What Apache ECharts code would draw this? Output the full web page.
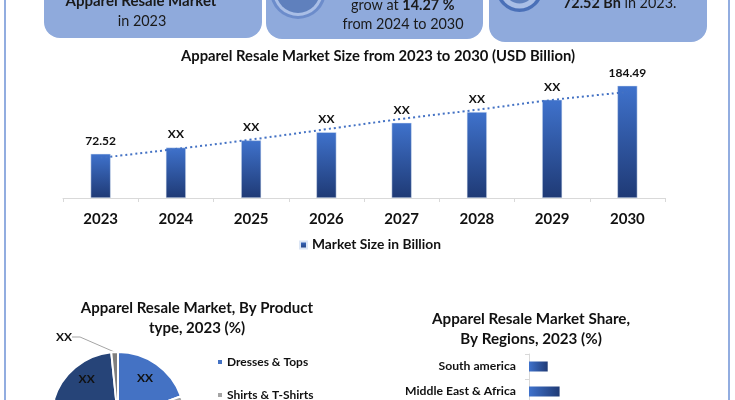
<!DOCTYPE html>
<html>
<head>
<meta charset="utf-8">
<style>
  html, body { margin: 0; padding: 0; background: #fff; }
  #chart { width: 735px; height: 400px; }
</style>
<script src="https://cdn.jsdelivr.net/npm/echarts@6/dist/echarts.min.js"></script>
</head>
<body>
<div id="chart"></div>
<script>
// market size bars
const years = ['2023', '2024', '2025', '2026', '2027', '2028', '2029', '2030']
const marketSize = [72.52, 82.9, 94.7, 108.2, 123.6, 141.3, 161.5, 184.49]
const barLabels = ['72.52', 'XX', 'XX', 'XX', 'XX', 'XX', 'XX', '184.49']
// dotted trend line
const trendValues = [66, 80.5, 96, 113, 130, 145, 161, 174]

// product type pie, only the top part is in the picture
const productNames = ['Dresses & Tops', 'Shirts & T-Shirts', 'Other types', 'Outerwear', 'Accessories']
const productValues = [19.5, 30, 30, 18.9, 1.6]
const productColors = ['#4472C4', '#A5A5A5', '#5B9BD5', '#264478', '#7F7F7F']
const productLabels = ['XX', '', '', 'XX', 'XX']

// regions, two rows are visible
const regions = ['South america', 'Middle East & Africa']
const regionShare = [11, 18]

const fontName = 'Lato, "Open Sans", sans-serif'
const chart = echarts.init(document.getElementById('chart'))

const barGradient = new echarts.graphic.LinearGradient(0, 0, 0, 1, [
  { offset: 0, color: '#3F72CC' },
  { offset: 1, color: '#1F3A75' }
])
const regionGradient = new echarts.graphic.LinearGradient(0, 0, 1, 0, [
  { offset: 0, color: '#3F72CC' },
  { offset: 1, color: '#1F3A75' }
])

const headline = (text, x, y, weight, size) => ({
  type: 'text',
  x: x,
  y: y,
  style: {
    text: text,
    font: weight + ' ' + size + 'px ' + fontName,
    fill: '#1a1a1a',
    textAlign: 'center',
    textVerticalAlign: 'middle'
  }
})

const box = (x, w, bottom) => ({
  type: 'rect',
  shape: { x: x, y: -30, width: w, height: bottom + 30, r: 16 },
  style: { fill: '#8FAADC' }
})

const disc = (cx, cy, r, fill) => ({
  type: 'circle',
  shape: { cx: cx, cy: cy, r: r },
  style: { fill: fill }
})

const mixedRich = {
  n: { font: 'normal 14.4px ' + fontName, fill: '#1a1a1a' },
  b: { font: 'bold 14.4px ' + fontName, fill: '#1a1a1a' }
}

// small moves so the pie labels sit where the picture has them
const pieLabelMoves = {
  0: { dx: 6, dy: -11 },
  3: { dx: -8, dy: -12 },
  4: { x: 64, y: 337, align: 'center', verticalAlign: 'middle' }
}

chart.setOption({
  animation: false,
  textStyle: { fontFamily: fontName },
  title: [
    {
      text: 'Apparel Resale Market Size from 2023 to 2030 (USD Billion)',
      left: 373, top: 42, textAlign: 'center',
      textStyle: { fontSize: 14.8, fontWeight: 'bold', color: '#111', lineHeight: 18 }
    },
    {
      text: 'Apparel Resale Market, By Product\ntype, 2023 (%)',
      left: 192, top: 293, textAlign: 'center',
      textStyle: { fontSize: 15, fontWeight: 'bold', color: '#111', lineHeight: 20 }
    },
    {
      text: 'Apparel Resale Market Share,\nBy Regions, 2023 (%)',
      left: 526, top: 304, textAlign: 'center',
      textStyle: { fontSize: 15.2, fontWeight: 'bold', color: '#111', lineHeight: 20 }
    }
  ],
  legend: [
    {
      data: ['Market Size in Billion'],
      left: 294, top: 233, itemWidth: 7, itemHeight: 7, itemGap: 5,
      icon: 'rect',
      textStyle: { fontSize: 13.8, fontWeight: 'bold', color: '#111' }
    },
    {
      data: ['Dresses & Tops', 'Shirts & T-Shirts'],
      orient: 'vertical',
      left: 211, top: 351, height: 80, itemWidth: 6, itemHeight: 6, itemGap: 21, icon: 'rect',
      textStyle: { fontSize: 12, fontWeight: 'bold', color: '#111', padding: [0, 0, 0, -1] }
    }
  ],
  grid: [
    { left: 63, right: 70, top: 58, height: 140 },
    // runs past the bottom of the picture, so no shrinking to fit
    { left: 529, top: 354, width: 170, height: 50, outerBoundsMode: 'none' }
  ],
  xAxis: [
    {
      type: 'category', gridIndex: 0, data: years,
      axisLine: { lineStyle: { color: '#D9D9D9', width: 1 } },
      axisTick: { show: true, length: 4, lineStyle: { color: '#D9D9D9' } },
      axisLabel: { fontSize: 15, fontWeight: 'bold', color: '#111', margin: 14 }
    },
    { type: 'value', gridIndex: 1, min: 0, max: 100, show: false }
  ],
  yAxis: [
    { type: 'value', gridIndex: 0, min: 0, max: 230, show: false },
    {
      type: 'category', gridIndex: 1, data: regions, inverse: true,
      axisLine: { lineStyle: { color: '#D9D9D9', width: 1 } },
      axisTick: { show: true, length: 4, lineStyle: { color: '#D9D9D9' } },
      axisLabel: { fontSize: 12.2, fontWeight: 'bold', color: '#111', margin: 13 }
    }
  ],
  series: [
    {
      name: 'Market Size in Billion',
      type: 'bar',
      xAxisIndex: 0, yAxisIndex: 0,
      data: marketSize,
      barWidth: 20,
      itemStyle: { color: barGradient, borderColor: '#DCE6F5', borderWidth: 0.5 },
      label: {
        show: true, position: 'top', distance: 7,
        fontSize: 12, fontWeight: 'bold', color: '#111',
        formatter: p => barLabels[p.dataIndex]
      }
    },
    {
      name: 'trend',
      type: 'line',
      xAxisIndex: 0, yAxisIndex: 0,
      data: trendValues,
      smooth: true,
      showSymbol: false,
      z: 3,
      lineStyle: { color: '#4472C4', width: 2, type: [2, 3] }
    },
    {
      name: 'share',
      type: 'bar',
      xAxisIndex: 1, yAxisIndex: 1,
      data: regionShare,
      barWidth: 10,
      itemStyle: { color: regionGradient }
    },
    {
      name: 'product',
      type: 'pie',
      center: [118, 419],
      radius: [0, 67],
      startAngle: 90,
      data: productNames.map((n, i) => ({
        name: n,
        value: productValues[i],
        itemStyle: { color: productColors[i] },
        label: i === 4
          ? { show: true, position: 'outside', formatter: productLabels[i] }
          : { show: productLabels[i] !== '', position: 'inside', formatter: productLabels[i] },
        labelLine: i === 4 ? { show: true, length: 8, length2: 8 } : { show: false }
      })),
      itemStyle: { borderColor: '#fff', borderWidth: 2 },
      label: { fontSize: 12, fontWeight: 'bold', color: '#111' },
      labelLine: { lineStyle: { color: '#A5A5A5', width: 1 } },
      labelLayout: p => pieLabelMoves[p.dataIndex] || {},
      emphasis: { disabled: true }
    }
  ],
  graphic: [
    // page frame
    { type: 'rect', shape: { x: 5, y: -5, width: 724, height: 410 }, style: { fill: 'none', stroke: '#6F93D6', lineWidth: 1.5 }, z: 10 },
    // info boxes along the top, cut by the crop
    box(44, 218, 38), box(266, 217, 39), box(489, 218, 42),
    disc(298, -9, 28, '#6C8CCB'),
    disc(298, -9, 25, '#A9BEE6'),
    disc(298, -9, 22, '#5F80BD'),
    disc(519.5, -11.5, 23.5, '#4A70B8'),
    disc(519.5, -11.5, 20, '#A9BEE6'),
    disc(519.5, -11.5, 15, '#5F80BD'),
    headline('Apparel Resale Market', 141, 1, 'bold', 15),
    headline('in 2023', 142, 21, 'normal', 14.4),
    { type: 'text', x: 351, y: 5, style: { rich: mixedRich, text: '{n|grow at }{b|14.27 %}', textVerticalAlign: 'middle' } },
    headline('from 2024 to 2030', 403, 24, 'normal', 14.4),
    { type: 'text', x: 563, y: 3, style: { rich: mixedRich, text: '{b|72.52 Bn}{n| in 2023.}', textVerticalAlign: 'middle' } }
  ]
})

window.addEventListener('resize', () => chart.resize())
</script>
</body>
</html>
